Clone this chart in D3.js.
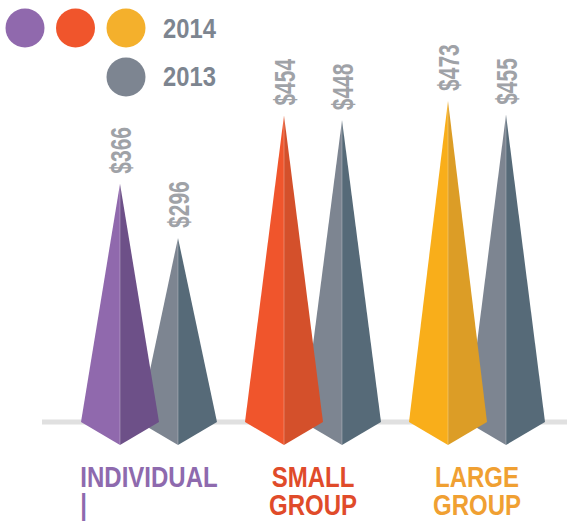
<!DOCTYPE html>
<html>
<head>
<meta charset="utf-8">
<script src="https://cdn.jsdelivr.net/npm/d3@7"></script>
<style>
  body { margin: 0; background: #fff; }
  svg { display: block; }
  text { font-family: "Liberation Sans", Arial, sans-serif; font-weight: bold; }
</style>
</head>
<body>
<div class="main"></div>
<script>
// chart data
const categories = ["INDIVIDUAL", "SMALL GROUP", "LARGE GROUP"];
const labelLines = [["INDIVIDUAL", "|"], ["SMALL", "GROUP"], ["LARGE", "GROUP"]];
const years = ["2014", "2013"];
const values2014 = [366, 454, 473];
const values2013 = [296, 448, 455];

const width = 567, height = 521;
const baseY = 422, halfW = 39, depth = 23;
const squeeze = 0.8; // condensed look for the bold face

const leftFace2014 = ["#9069ad", "#f0552c", "#f9ae1a"];
const rightFace2014 = ["#6d5088", "#d4502b", "#dc9d26"];
const legend2014 = ["#9069ad", "#f0552c", "#f4b02c"];
const labelColor = ["#8e6aae", "#e04b2a", "#f0a032"];
const grayLeft = "#7d8591", grayRight = "#566a78";

const svg = d3.select(".main").append("svg")
    .attr("width", width)
    .attr("height", height);

const x = d3.scaleBand()
    .domain(categories)
    .range([67, 559]);

const xYear = d3.scalePoint()
    .domain(years)
    .range([-29, 29]);

const y = d3.scaleLinear()
    .domain([0, 500])
    .range([467, 80]);

// baseline
svg.append("line")
    .attr("x1", 42).attr("x2", width)
    .attr("y1", baseY).attr("y2", baseY)
    .attr("stroke", "#e0e0e0")
    .attr("stroke-width", 5);

// build rows, draw 2013 first so 2014 sits in front
const rows = [];
categories.forEach((c, i) => {
    rows.push({ cat: c, year: "2013", value: values2013[i], left: grayLeft, right: grayRight });
});
categories.forEach((c, i) => {
    rows.push({ cat: c, year: "2014", value: values2014[i], left: leftFace2014[i], right: rightFace2014[i] });
});

const pyr = svg.selectAll("g.pyramid")
    .data(rows)
    .enter()
    .append("g")
    .attr("class", "pyramid")
    .attr("transform", d => "translate(" + (x(d.cat) + x.bandwidth() / 2 + xYear(d.year)) + ",0)");

pyr.append("path")
    .attr("d", d => d3.line()([[0, y(d.value)], [-halfW, baseY], [0, baseY + depth]]) + "Z")
    .attr("fill", d => d.left);

pyr.append("path")
    .attr("d", d => d3.line()([[0, y(d.value)], [0, baseY + depth], [halfW, baseY]]) + "Z")
    .attr("fill", d => d.right);

pyr.append("line")
    .attr("x1", 0).attr("x2", 0)
    .attr("y1", d => y(d.value)).attr("y2", baseY + depth)
    .attr("stroke", "#ffffff")
    .attr("stroke-opacity", 0.35)
    .attr("stroke-width", 0.8);

// value labels, rotated
pyr.append("text")
    .attr("transform", d => "translate(0," + (y(d.value) - 10) + ") rotate(-90) scale(0.7,1)")
    .attr("dy", "0.36em")
    .attr("font-size", 30)
    .attr("fill", "#9fa2a7")
    .text(d => "$" + d.value);

// category labels
categories.forEach((c, i) => {
    const cx = x(c) + x.bandwidth() / 2;
    const t = svg.append("text")
        .attr("transform", "translate(" + cx + ",0) scale(" + squeeze + ",1)")
        .attr("font-size", 30)
        .attr("fill", labelColor[i])
        .attr("text-anchor", "middle");
    const first = t.append("tspan")
        .attr("x", 0)
        .attr("y", 487)
        .text(labelLines[i][0]);
    const w = first.node().getComputedTextLength();
    labelLines[i].slice(1).forEach((ln, j) => {
        const sp = t.append("tspan")
            .attr("y", 487 + 28 * (j + 1))
            .text(ln);
        if (ln === "|") {
            sp.attr("x", -w / 2).attr("text-anchor", "start");
        } else {
            sp.attr("x", 0);
        }
    });
});

// legend
const legend = svg.append("g");
legend2014.forEach((col, i) => {
    legend.append("circle")
        .attr("cx", 25 + i * 50.5)
        .attr("cy", 28)
        .attr("r", 19.5)
        .attr("fill", col);
});
legend.append("circle")
    .attr("cx", 126)
    .attr("cy", 77)
    .attr("r", 19.5)
    .attr("fill", grayLeft);

legend.selectAll("text.year")
    .data(years)
    .enter()
    .append("text")
    .attr("class", "year")
    .attr("transform", (d, i) => "translate(163," + (37.5 + i * 48.5) + ") scale(0.85,1)")
    .attr("font-size", 28)
    .attr("fill", "#7d8590")
    .text(d => d);
</script>
</body>
</html>
